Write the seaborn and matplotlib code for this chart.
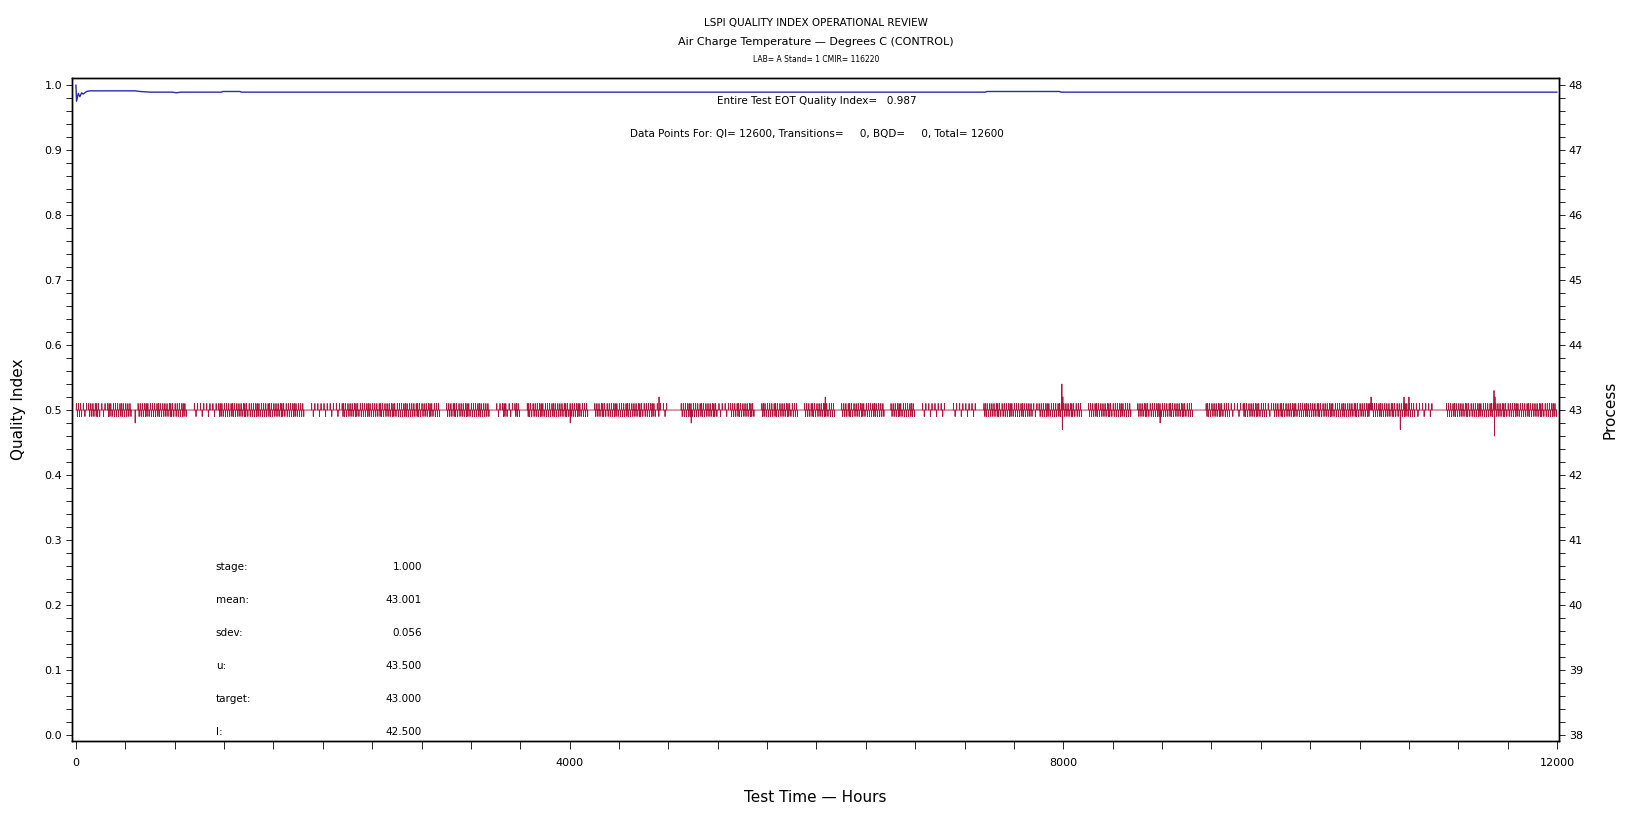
import numpy as np
import pandas as pd
import seaborn as sns
import matplotlib.pyplot as plt
from matplotlib.ticker import MultipleLocator

# Quality index (left axis)
qi_hours = [0, 5, 19, 32, 46, 59, 86, 113, 150, 480, 520, 600, 780, 816, 850,
            1180, 1190, 1330, 1340, 7370, 7380, 7970, 7980, 12000]
qi_values = [1.000, 0.975, 0.987, 0.982, 0.988, 0.986, 0.990, 0.991, 0.991, 0.991,
             0.990, 0.989, 0.989, 0.988, 0.989, 0.989, 0.990, 0.990, 0.989, 0.989,
             0.990, 0.990, 0.989, 0.989]

# Process (right axis): baseline 43.0 with 0.1 deg steps.
# One character per 50 h bin: '#' busy, 'i' a few steps, '-' flat
proc_pattern = ("#i##i####-" "########-i" "iii#######" "#######-ii" "iii#######"
                "#########-" "#######-i#" "i#-#######" "###-######" "####ii--##"
                "####ii####" "-######-##" "###-######" "#-####-iii" "i-iiii-###"
                "#####i####" "###-######" "#-########" "#--####ii#" "###i######"
                "##########" "#######iii" "--########" "##########")
proc_base = 43.0
proc_step = 0.1
# larger single excursions (hour, value)
spike_hours = [480, 4005, 4724, 4985, 6071, 7988, 7992, 7996, 8784,
               10493, 10730, 10760, 10800, 11489, 11493, 11497]
spike_values = [42.8, 42.8, 43.2, 42.8, 43.2, 43.4, 42.7, 43.2, 42.8,
                43.2, 42.7, 43.2, 43.2, 43.3, 42.6, 43.2]

stat_labels = ["stage:", "mean:", "sdev:", "u:", "target:", "l:"]
stat_values = [1.000, 43.001, 0.056, 43.500, 43.000, 42.500]

title_lines = ["LSPI QUALITY INDEX OPERATIONAL REVIEW",
               "Air Charge Temperature \u2014 Degrees C (CONTROL)",
               "LAB= A Stand= 1 CMIR= 116220"]

# step positions inside a busy bin, two layouts used in turn
busy_ups = [[4, 21, 38], [7, 19, 33]]
busy_downs = [[12, 29, 46], [14, 26, 43]]

# expand the per-bin pattern into an hourly series
hours = np.arange(0, 12001)
proc = np.full(hours.shape, proc_base)
for b, ch in enumerate(proc_pattern):
    h0 = b * 50
    if ch == "#":
        ups, downs = busy_ups[b % 2], busy_downs[b % 2]
    elif ch == "i":
        ups, downs = [10, 36], [23]
    else:
        continue
    for o in ups:
        proc[h0 + o] = proc_base + proc_step
    for o in downs:
        proc[h0 + o] = proc_base - proc_step
for h, v in zip(spike_hours, spike_values):
    proc[h] = v
proc_df = pd.DataFrame({"hours": hours, "process": proc})

sns.set_style("ticks")
plt.rcParams["font.family"] = ["DejaVu Sans"]
plt.rcParams.update({"text.color": "black", "axes.labelcolor": "black",
                     "xtick.color": "black", "ytick.color": "black",
                     "axes.edgecolor": "black"})

fig = plt.figure(figsize=(16.32, 8.19), dpi=100)
ax = fig.add_axes([0.0441, 0.0952, 0.9112, 0.8096])
ax2 = ax.twinx()

sns.lineplot(x=qi_hours, y=qi_values, ax=ax, color="#2B2BA8", linewidth=1.0)
sns.lineplot(data=proc_df, x="hours", y="process", ax=ax2, color="#B4143C",
             linewidth=0.6)

ax.set_xlim(-32, 12016)
ax.set_ylim(-0.0092, 1.0108)
ax2.set_ylim(37.908, 48.108)

ax.set_xticks([0, 4000, 8000, 12000])
ax.xaxis.set_minor_locator(MultipleLocator(400))
ax.set_yticks(np.round(np.arange(0, 1.01, 0.1), 1))
ax.yaxis.set_minor_locator(MultipleLocator(0.02))
ax.yaxis.set_major_formatter(plt.FormatStrFormatter("%.1f"))
ax2.set_yticks(range(38, 49))
ax2.yaxis.set_minor_locator(MultipleLocator(0.2))

ax.tick_params(axis="x", which="both", length=6, width=0.6, pad=6, labelsize=8)
ax.tick_params(axis="y", which="both", length=4, width=0.6, pad=3, labelsize=8)
ax2.tick_params(axis="y", which="both", length=4, width=0.6, pad=3, labelsize=8)
for a in (ax, ax2):
    for s in a.spines.values():
        s.set_linewidth(1.0)
        s.set_color("black")

ax.set_xlabel("Test Time \u2014 Hours", fontsize=11)
ax.xaxis.set_label_coords(0.5, -0.074)
ax.set_ylabel("Quality Index", fontsize=11, va="center")
ax.yaxis.set_label_coords(-0.036, 0.5)
ax2.set_ylabel("Process", fontsize=11, va="center")
ax2.yaxis.set_label_coords(1.034, 0.5)

ax.text(6000, 0.975, "Entire Test EOT Quality Index=   0.987",
        ha="center", va="center", fontsize=7.5)
ax.text(6000, 0.925, "Data Points For: QI= 12600, Transitions=     0, BQD=     0, Total= 12600",
        ha="center", va="center", fontsize=7.5)
for i, (lab, val) in enumerate(zip(stat_labels, stat_values)):
    y = 0.259 - 0.0508 * i
    ax.text(1134, y, lab, ha="left", va="center", fontsize=7.5)
    ax.text(2803, y, f"{val:.3f}", ha="right", va="center", fontsize=7.5)

fig.text(0.5, 0.972, title_lines[0], ha="center", va="center", fontsize=7.5)
fig.text(0.5, 0.949, title_lines[1], ha="center", va="center", fontsize=8)
fig.text(0.5, 0.927, title_lines[2], ha="center", va="center", fontsize=5.5)

fig.savefig("out.png", dpi=100, facecolor="white")
